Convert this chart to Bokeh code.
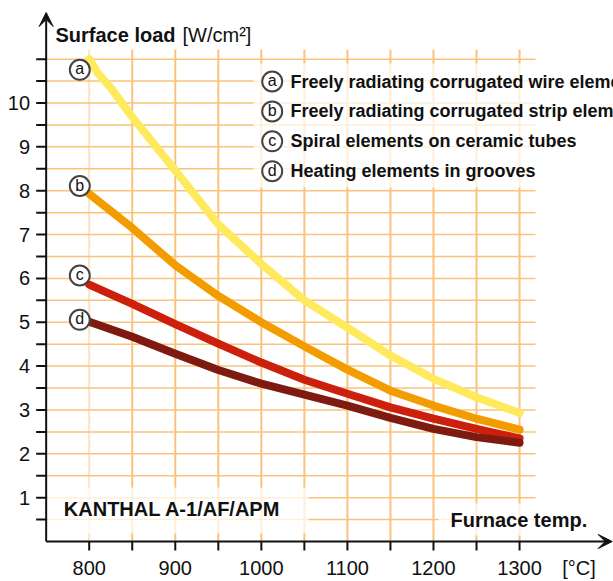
from bokeh.plotting import figure
from bokeh.models import Range1d, Arrow, VeeHead
from bokeh.core.properties import value
from bokeh.embed import file_html
from bokeh.resources import INLINE

# ---------------- data ----------------
temp_a = [800, 810, 825, 850, 900, 950, 1000, 1050, 1100, 1150, 1200, 1250, 1300]
load_a = [11.0, 10.68, 10.35, 9.68, 8.46, 7.23, 6.33, 5.50, 4.88, 4.24, 3.71, 3.29, 2.93]

temp_b = [800, 850, 900, 950, 1000, 1050, 1100, 1150, 1200, 1250, 1300]
load_b = [7.93, 7.15, 6.30, 5.60, 5.00, 4.45, 3.92, 3.44, 3.10, 2.80, 2.55]

temp_c = [800, 850, 900, 950, 1000, 1050, 1100, 1150, 1200, 1250, 1300]
load_c = [5.86, 5.42, 4.96, 4.51, 4.08, 3.69, 3.37, 3.06, 2.80, 2.57, 2.35]

temp_d = [800, 850, 900, 950, 1000, 1050, 1100, 1150, 1200, 1250, 1300]
load_d = [5.01, 4.67, 4.28, 3.91, 3.60, 3.35, 3.10, 2.82, 2.57, 2.38, 2.25]

letters = ["a", "b", "c", "d"]
legend_texts = [
    "Freely radiating corrugated wire elements",
    "Freely radiating corrugated strip elements",
    "Spiral elements on ceramic tubes",
    "Heating elements in grooves",
]
x_tick_values = [800, 850, 900, 950, 1000, 1050, 1100, 1150, 1200, 1250, 1300]
x_label_values = [800, 900, 1000, 1100, 1200, 1300]
x_tick_labels = ["800", "900", "1000", "1100", "1200", "1300"]
y_tick_values = [0.5 * i for i in range(1, 23)]
y_label_values = [1, 2, 3, 4, 5, 6, 7, 8, 9, 10]
y_tick_labels = ["1", "2", "3", "4", "5", "6", "7", "8", "9", "10"]

# ---------------- styles ----------------
COLORS = ["#FFE95C", "#F39C00", "#CC1F0C", "#7E1A10"]
GRID = "#F9C37B"
INK = "#111111"
FONT = value("Liberation Sans")

W, H = 613, 581
XS = 0.8607          # px per °C
YS = 43.85           # px per W/cm²
X0 = 800 - 88.7 / XS
X1 = X0 + W / XS
Y1 = 541 / YS
Y0 = Y1 - H / YS


def tx(px):  # pixel x -> data
    return X0 + px / XS


def ty(py):  # pixel y -> data
    return Y1 - py / YS


AX_X = 750  # y-axis position (°C)

p = figure(width=W, height=H, x_range=Range1d(X0, X1), y_range=Range1d(Y0, Y1),
           x_axis_type=None, y_axis_type=None, toolbar_location=None,
           output_backend="svg", min_border=0, outline_line_color=None,
           background_fill_color="white", border_fill_color="white")

# grid
n = len(y_tick_values)
p.segment(x0=[AX_X] * n, y0=y_tick_values, x1=[tx(535)] * n, y1=y_tick_values,
          line_color=GRID, line_width=1.5)
grid_alpha = [0.45 if v == 800 else 1.0 for v in x_tick_values]
m = len(x_tick_values)
p.segment(x0=x_tick_values, y0=[0] * m, x1=x_tick_values, y1=[ty(49)] * m,
          line_color=GRID, line_width=2, line_alpha=grid_alpha)

# translucent white boxes behind texts
p.quad(left=[tx(253), tx(47), tx(438)], right=[tx(613), tx(308), tx(613)],
       top=[ty(63), ty(487), ty(503)], bottom=[ty(187), ty(533), ty(535)],
       fill_color="white", fill_alpha=0.72, line_color=None)

# curves
for t, l, c in zip([temp_a, temp_b, temp_c, temp_d],
                   [load_a, load_b, load_c, load_d], COLORS):
    p.line(t, l, line_color=c, line_width=8, line_cap="round", line_join="round")

# circled curve labels
lab_x = [tx(79.3)] * 4
lab_y = [ty(69.3), ty(185.5), ty(275), ty(319.3)]
p.scatter(lab_x, lab_y, size=20, marker="circle", fill_color="white",
          line_color="#444444", line_width=2)
p.text(lab_x, lab_y, text=letters, text_align="center", text_baseline="middle",
       text_font=FONT, text_font_size="16px", text_color=INK, y_offset=-1)

# legend
leg_y = [ty(81 + 29.9 * i) for i in range(4)]
p.scatter([tx(271.7)] * 4, leg_y, size=20, marker="circle", fill_color="white",
          line_color="#444444", line_width=2)
p.text([tx(271.7)] * 4, leg_y, text=letters, text_align="center",
       text_baseline="middle", text_font=FONT, text_font_size="16px",
       text_color=INK, y_offset=-1)
p.text([tx(290)] * 4, leg_y, text=legend_texts, text_align="left",
       text_baseline="middle", text_font=FONT, text_font_size="18px",
       text_font_style="bold", text_color=INK)

# axis ticks
p.segment(x0=[AX_X - 10 / XS] * n, y0=y_tick_values, x1=[AX_X] * n, y1=y_tick_values,
          line_color=INK, line_width=2)
p.segment(x0=x_tick_values, y0=[0] * m, x1=x_tick_values, y1=[-9 / YS] * m,
          line_color=INK, line_width=2)

# tick labels
p.text([tx(29.5)] * len(y_label_values), y_label_values, text=y_tick_labels,
       text_align="right", text_baseline="middle", text_font=FONT,
       text_font_size="20px", text_color=INK)
p.text(x_label_values, [ty(567)] * len(x_label_values), text=x_tick_labels,
       text_align="center", text_baseline="middle", text_font=FONT,
       text_font_size="20px", text_color=INK)

# axis arrows
p.add_layout(Arrow(end=VeeHead(size=14, fill_color=INK, line_color=INK),
                   x_start=AX_X, y_start=0, x_end=tx(611.7), y_end=0,
                   line_color=INK, line_width=2))
p.add_layout(Arrow(end=VeeHead(size=14, fill_color=INK, line_color=INK),
                   x_start=AX_X, y_start=0, x_end=AX_X, y_end=ty(12),
                   line_color=INK, line_width=2))

# titles / annotations
p.text([tx(55)], [ty(34)], text=["Surface load"], text_font=FONT,
       text_font_size="20px", text_font_style="bold", text_color=INK,
       text_baseline="middle")
p.text([tx(182)], [ty(34)], text=["[W/cm²]"], text_font=FONT,
       text_font_size="20px", text_color=INK, text_baseline="middle")
p.text([tx(450)], [ty(519)], text=["Furnace temp."], text_font=FONT,
       text_font_size="20px", text_font_style="bold", text_color=INK,
       text_baseline="middle")
p.text([tx(561.7)], [ty(567)], text=["[°C]"], text_font=FONT,
       text_font_size="20px", text_color=INK, text_baseline="middle")
p.text([tx(63.3)], [ty(508)], text=["KANTHAL A-1/AF/APM"], text_font=FONT,
       text_font_size="20px", text_font_style="bold", text_color=INK,
       text_baseline="middle")

open("out.html", "w").write(file_html(p, INLINE))
